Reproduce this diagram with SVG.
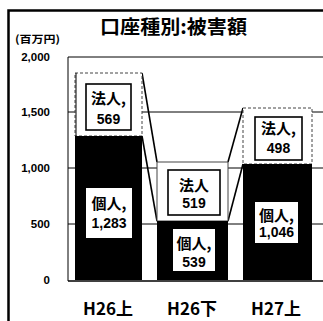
<svg xmlns="http://www.w3.org/2000/svg" width="323" height="321" viewBox="0 0 323 321">
<style>
.cjk{font-family:"Noto Sans CJK JP","Liberation Sans",sans-serif;font-weight:bold;fill:#000}
.num{font-family:"Liberation Sans","Noto Sans CJK JP",sans-serif;font-weight:bold;fill:#000}
.grid{stroke:#000;stroke-width:1;fill:none}
.seg{fill:#fff;stroke:#444;stroke-width:1}
.box{fill:#fff;stroke:#000;stroke-width:1.6}
.pbox{fill:#fff;stroke:none}
.bar{fill:#000}
.conn{stroke:#000;stroke-width:1.6;fill:none}
</style>
<rect width="323" height="321" fill="#fff"/>
<!-- outer frame -->
<path d="M8.5 321 V10.5 H323" fill="none" stroke="#000" stroke-width="2.5"/>
<!-- title -->
<text class="cjk" x="100" y="34" font-size="19" textLength="147" lengthAdjust="spacingAndGlyphs">口座種別:被害額</text>
<text class="cjk" x="15" y="43" font-size="10.5" textLength="45" lengthAdjust="spacingAndGlyphs">(百万円)</text>
<!-- axis labels -->
<g id="yaxis" class="num" font-size="11.5" text-anchor="end">
<text x="50" y="61">2,000</text>
<text x="50" y="116">1,500</text>
<text x="50" y="172">1,000</text>
<text x="50" y="228">500</text>
<text x="50" y="284">0</text>
</g>
<!-- plot area and gridlines -->
<g id="grid" class="grid">
<path d="M68 57 H323"/>
<path d="M68 57 V281"/>
<path d="M68 112 H323"/>
<path d="M68 168 H323"/>
<path d="M68 224 H323"/>
<path d="M68 281 H323" stroke-width="1.4"/>
</g>
<!-- connectors (series lines) -->
<g id="connectors">
<line class="conn" x1="142" y1="73" x2="157" y2="162"/>
<line class="conn" x1="142" y1="136" x2="157" y2="221"/>
<line class="conn" x1="228" y1="162" x2="243" y2="108"/>
<line class="conn" x1="228" y1="221" x2="243" y2="164"/>
</g>
<!-- bar H26上 -->
<g id="bar-h26-1">
<rect class="seg" x="75" y="73" width="67" height="63" stroke-dasharray="3,2"/>
<line x1="76" y1="73" x2="76" y2="136" stroke="#000" stroke-width="1"/>
<rect class="bar" x="75" y="136" width="67" height="144"/>
<rect class="box" x="86" y="84" width="45" height="46"/>
<text class="cjk" x="108.5" y="104" font-size="15" text-anchor="middle">法人,</text>
<text class="num" x="108.5" y="124" font-size="14" text-anchor="middle">569</text>
<rect class="pbox" x="86" y="188" width="46" height="50"/>
<text class="cjk" x="109" y="209" font-size="15" text-anchor="middle">個人,</text>
<text class="num" x="109" y="228" font-size="14" text-anchor="middle">1,283</text>
</g>
<!-- bar H26下 -->
<g id="bar-h26-2">
<rect class="seg" x="157" y="162" width="71" height="59"/>
<rect class="bar" x="157" y="221" width="71" height="59"/>
<rect class="box" x="168" y="170" width="52" height="45" stroke-width="2.2"/>
<text class="cjk" x="194" y="191" font-size="15" text-anchor="middle">法人</text>
<text class="num" x="194" y="208" font-size="14" text-anchor="middle">519</text>
<rect class="pbox" x="173" y="229" width="42" height="42"/>
<text class="cjk" x="194" y="249" font-size="15" text-anchor="middle">個人,</text>
<text class="num" x="194" y="267" font-size="14" text-anchor="middle">539</text>
</g>
<!-- bar H27上 -->
<g id="bar-h27-1">
<rect class="seg" x="243" y="108" width="69" height="56" stroke-dasharray="3,2"/>
<rect class="bar" x="243" y="164" width="69" height="116"/>
<rect class="box" x="255" y="117" width="47" height="43"/>
<text class="cjk" x="278.5" y="134" font-size="15" text-anchor="middle">法人,</text>
<text class="num" x="278.5" y="153" font-size="14" text-anchor="middle">498</text>
<rect class="pbox" x="255" y="202" width="43" height="41"/>
<text class="cjk" x="276.5" y="221" font-size="15" text-anchor="middle">個人,</text>
<text class="num" x="276.5" y="237" font-size="14" text-anchor="middle">1,046</text>
</g>
<!-- category labels -->
<g id="xaxis" class="cjk" font-size="17" text-anchor="middle">
<text x="108" y="315">H26上</text>
<text x="192" y="315">H26下</text>
<text x="276" y="315">H27上</text>
</g>
</svg>
